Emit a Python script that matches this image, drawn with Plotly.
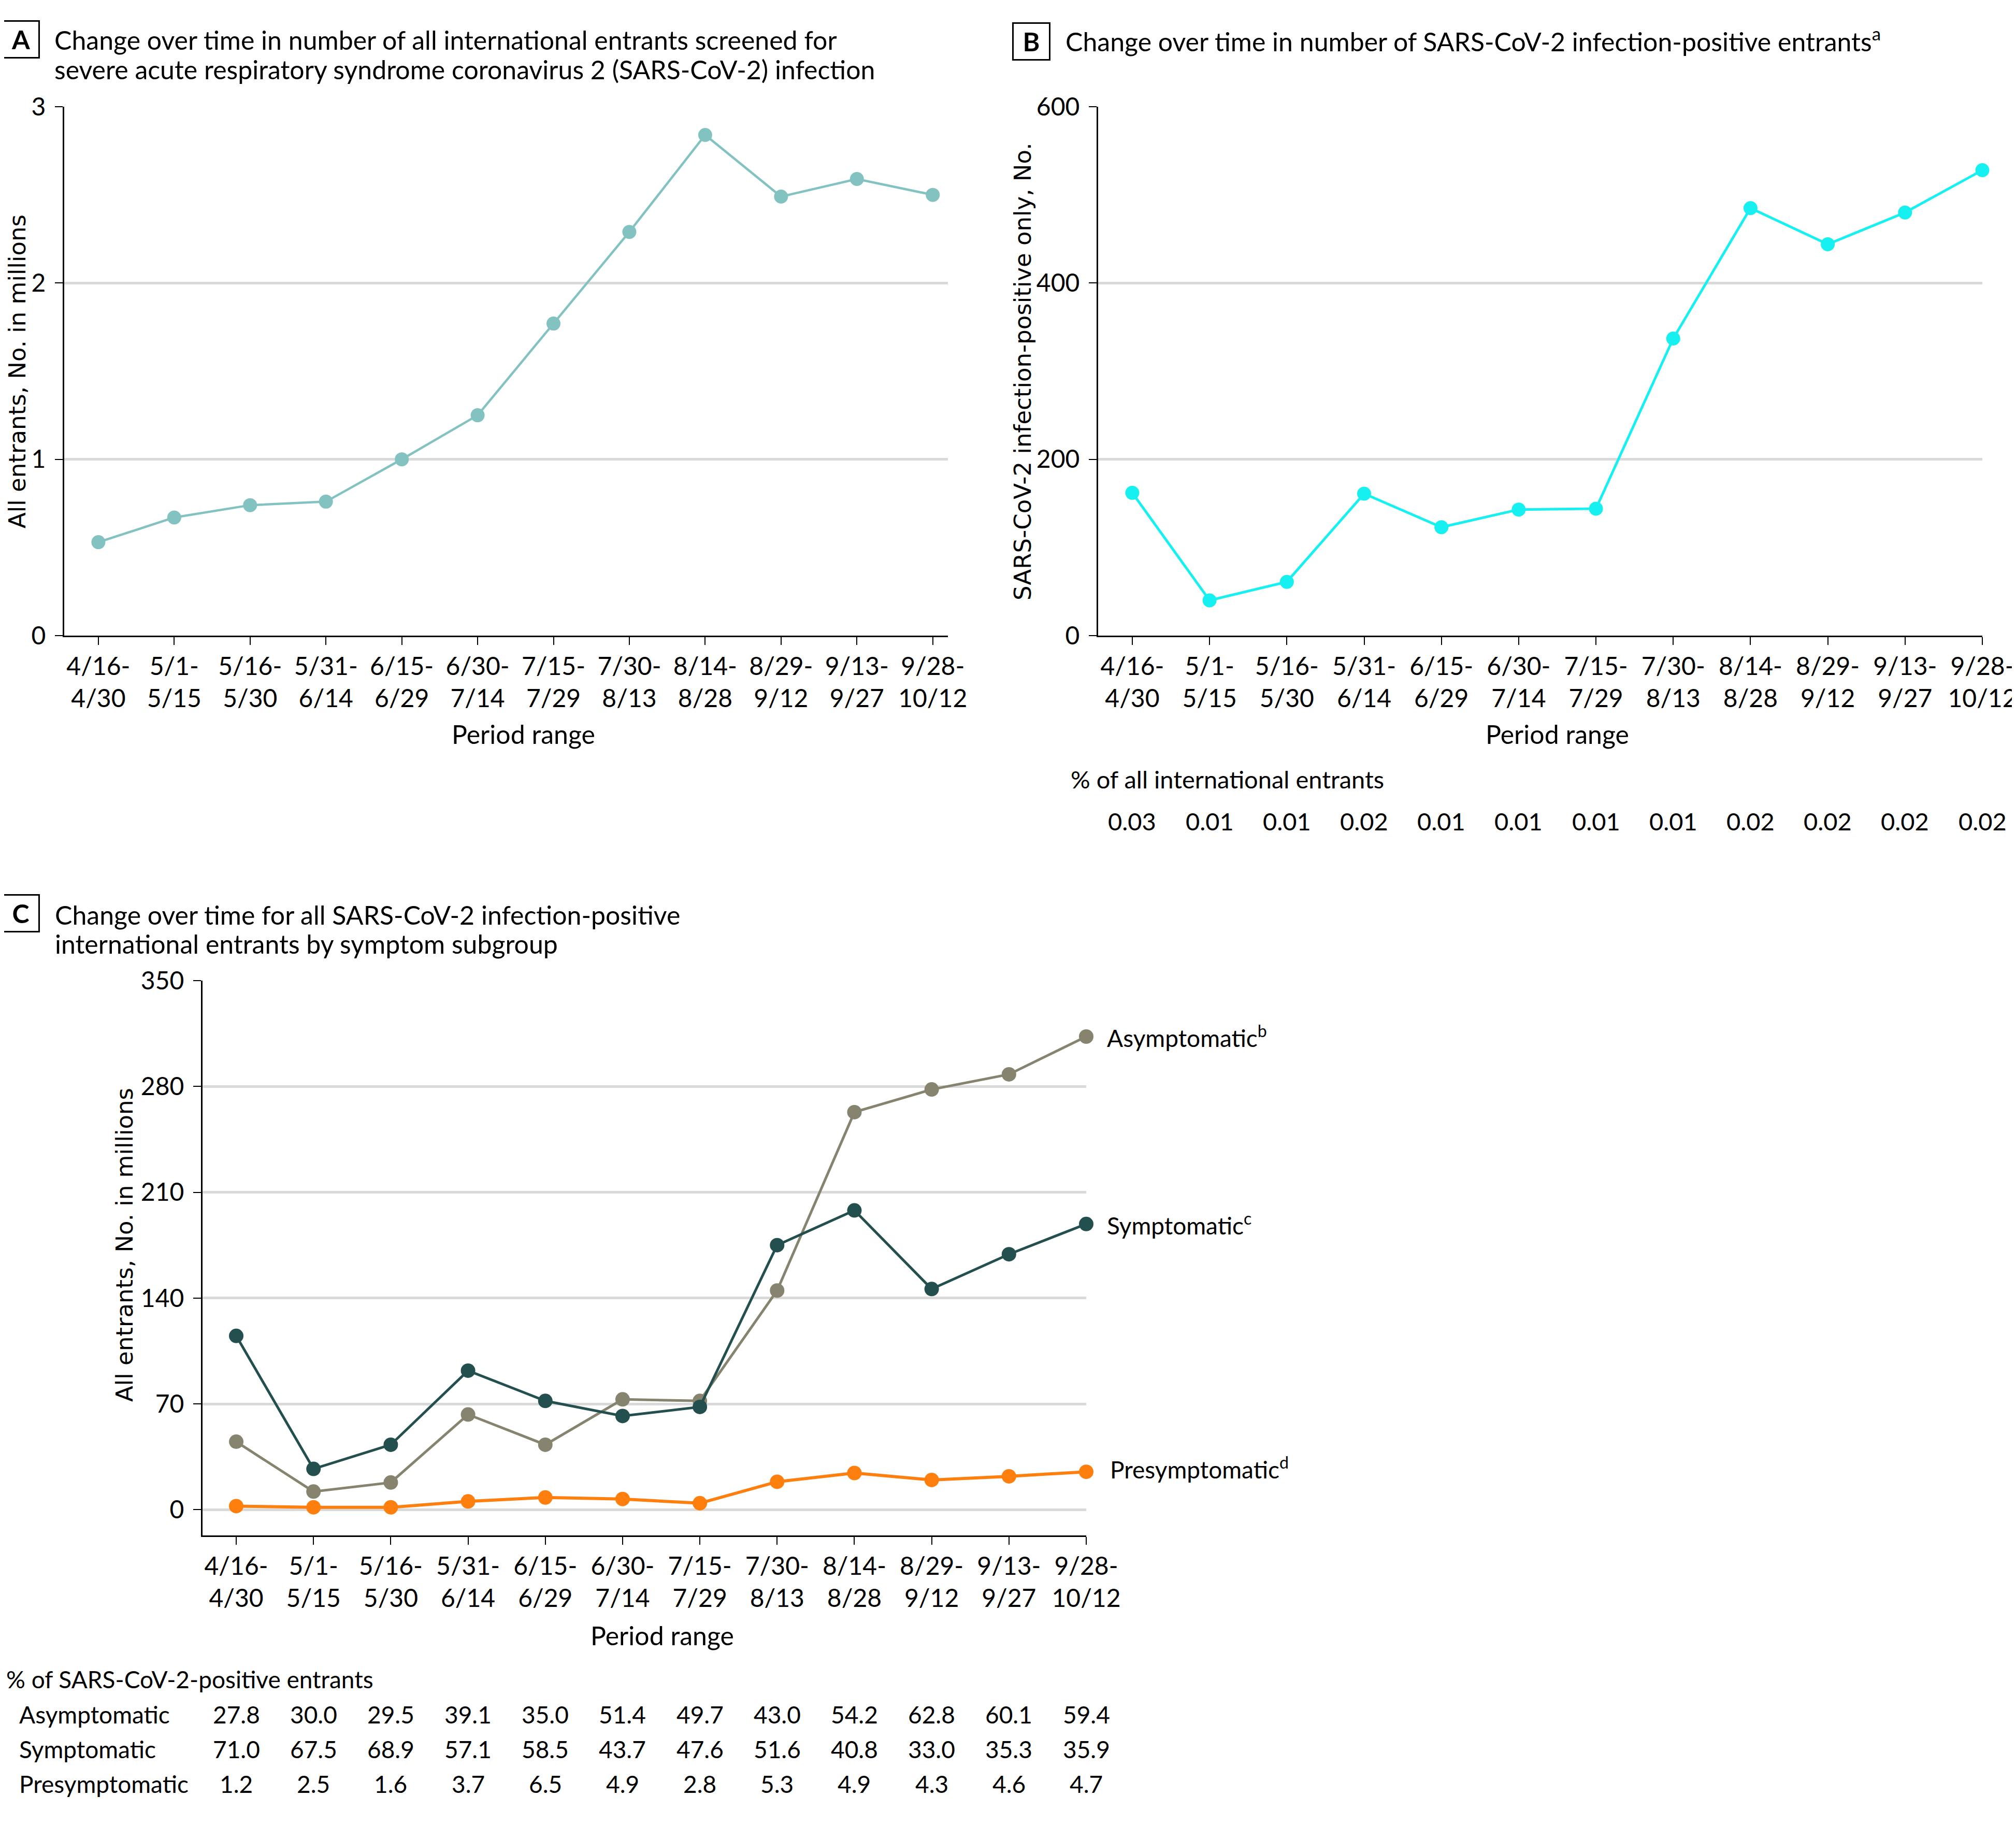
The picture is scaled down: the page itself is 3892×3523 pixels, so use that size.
import plotly.graph_objects as go

# ---------------- data ----------------
periods = ["4/16-<br>4/30", "5/1-<br>5/15", "5/16-<br>5/30", "5/31-<br>6/14", "6/15-<br>6/29",
           "6/30-<br>7/14", "7/15-<br>7/29", "7/30-<br>8/13", "8/14-<br>8/28", "8/29-<br>9/12",
           "9/13-<br>9/27", "9/28-<br>10/12"]
all_entrants_m = [0.53, 0.67, 0.74, 0.76, 1.00, 1.25, 1.77, 2.29, 2.84, 2.49, 2.59, 2.50]
positive_total = [162, 40, 61, 161, 123, 143, 144, 337, 485, 444, 480, 528]
pct_all_entrants = ["0.03", "0.01", "0.01", "0.02", "0.01", "0.01", "0.01", "0.01", "0.02", "0.02", "0.02", "0.02"]
asymptomatic = [45, 12, 18, 63, 43, 73, 72, 145, 263, 278, 288, 313]
symptomatic = [115, 27, 43, 92, 72, 62, 68, 175, 198, 146, 169, 189]
presymptomatic = [2.4, 1.6, 1.6, 5.5, 8.1, 7.1, 4.3, 18.5, 24.3, 19.7, 22.1, 25.1]
pct_asym = ["27.8", "30.0", "29.5", "39.1", "35.0", "51.4", "49.7", "43.0", "54.2", "62.8", "60.1", "59.4"]
pct_sym = ["71.0", "67.5", "68.9", "57.1", "58.5", "43.7", "47.6", "51.6", "40.8", "33.0", "35.3", "35.9"]
pct_pre = ["1.2", "2.5", "1.6", "3.7", "6.5", "4.9", "2.8", "5.3", "4.9", "4.3", "4.6", "4.7"]

xs = list(range(len(periods)))

# ---------------- style ----------------
PAGE_W, PAGE_H = 3892, 3523
BODY = 8                      # default page body margin
W, H = PAGE_W - 2 * BODY, PAGE_H - 2 * BODY
FONT = "Lato"
YFONT = "DejaVu Sans"
FS_TITLE = 50
FS_TICK = 48
FS_TEXT = 46
GRID = "#D9D9D9"
C_A = "#82C2C1"
C_B = "#17F0F0"
C_ASYM = "#86836F"
C_SYM = "#244F4F"
C_PRE = "#FF7F0E"


def px(x):
    return (x - BODY) / W


def py(y):
    return 1 - (y - BODY) / H


fig = go.Figure()

fig.add_trace(go.Scatter(x=xs, y=all_entrants_m, mode="lines+markers", xaxis="x", yaxis="y",
                         line=dict(color=C_A, width=4.5), marker=dict(color=C_A, size=27),
                         cliponaxis=False))
fig.add_trace(go.Scatter(x=xs, y=positive_total, mode="lines+markers", xaxis="x2", yaxis="y2",
                         line=dict(color=C_B, width=5), marker=dict(color=C_B, size=27),
                         cliponaxis=False))
fig.add_trace(go.Scatter(x=xs, y=presymptomatic, mode="lines+markers", xaxis="x3", yaxis="y3",
                         line=dict(color=C_PRE, width=6), marker=dict(color=C_PRE, size=28),
                         cliponaxis=False))
fig.add_trace(go.Scatter(x=xs, y=asymptomatic, mode="lines+markers", xaxis="x3", yaxis="y3",
                         line=dict(color=C_ASYM, width=5), marker=dict(color=C_ASYM, size=28),
                         cliponaxis=False))
fig.add_trace(go.Scatter(x=xs, y=symptomatic, mode="lines+markers", xaxis="x3", yaxis="y3",
                         line=dict(color=C_SYM, width=5), marker=dict(color=C_SYM, size=28),
                         cliponaxis=False))

xcommon = dict(tickvals=xs, ticktext=periods, ticks="outside", ticklen=15, tickwidth=2,
               tickcolor="black", showline=True, linecolor="black", linewidth=3,
               showgrid=False, zeroline=False, automargin=False, ticklabeloverflow="allow",
               tickfont=dict(family=FONT, size=FS_TICK, color="black"), fixedrange=True)
ycommon = dict(ticks="outside", ticklen=15, tickwidth=2, tickcolor="black", showline=True,
               linecolor="black", linewidth=3, showgrid=True, gridcolor=GRID, gridwidth=5,
               zeroline=False, automargin=False,
               tickfont=dict(family=FONT, size=FS_TICK, color="black"),
               ticklabelstandoff=8, fixedrange=True)

fig.update_layout(
    width=W, height=H,
    margin=dict(l=0, r=0, t=0, b=0, autoexpand=False),
    paper_bgcolor="white", plot_bgcolor="white",
    showlegend=False,
    font=dict(family=FONT, size=FS_TEXT, color="black"),
    xaxis=dict(domain=[px(124), px(1830)], range=[-0.45, 11.2], anchor="y", **xcommon),
    yaxis=dict(domain=[py(1227), py(206)], range=[0, 3], tickvals=[0, 1, 2, 3], anchor="x", **ycommon),
    xaxis2=dict(domain=[px(2120), px(3827)], range=[-0.442, 11.0], anchor="y2", **xcommon),
    yaxis2=dict(domain=[py(1227), py(206)], range=[0, 600], tickvals=[0, 200, 400, 600], anchor="x2", **ycommon),
    xaxis3=dict(domain=[px(391), px(2097)], range=[-0.436, 11.0], anchor="y3", **xcommon),
    yaxis3=dict(domain=[py(2964), py(1893)], range=[-17, 350], tickvals=[0, 70, 140, 210, 280, 350], anchor="x3", **ycommon),
)

ann = []


def text(x, y, s, xanchor="left", yanchor="middle", size=FS_TEXT, xref="paper", yref="paper",
         angle=0, family=FONT, **kw):
    ann.append(dict(x=x, y=y, xref=xref, yref=yref, text=s, showarrow=False, xanchor=xanchor,
                    yanchor=yanchor, textangle=angle, font=dict(family=family, size=size, color="black"), **kw))


def box(cx, cy, letter):
    ann.append(dict(x=px(cx), y=py(cy), xref="paper", yref="paper", text="<b>%s</b>" % letter,
                    showarrow=False, xanchor="center", yanchor="middle", width=64, height=64,
                    bordercolor="black", borderwidth=3, borderpad=2,
                    font=dict(family=FONT, size=FS_TITLE, color="black")))


# Panel A
box(40, 76, "A")
text(px(103), py(77), "Change over time in number of all international entrants screened for", size=FS_TITLE)
text(px(103), py(134), "severe acute respiratory syndrome coronavirus 2 (SARS-CoV-2) infection", size=FS_TITLE)
text(px(34), py(717), "All entrants, No. in millions", xanchor="center", angle=-90, size=45, family=YFONT)
text(px(1010), py(1417), "Period range", xanchor="center", size=50)

# Panel B
box(1991, 80, "B")
text(px(2055), py(77), "Change over time in number of SARS-CoV-2 infection-positive entrants<sup>a</sup>", size=FS_TITLE)
text(px(1975), py(717), "SARS-CoV-2 infection-positive only, No.", xanchor="center", angle=-90, size=45, family=YFONT)
text(px(3006), py(1417), "Period range", xanchor="center", size=50)
text(px(2065), py(1504), "% of all international entrants", size=47)
for i, v in enumerate(pct_all_entrants):
    text(i, py(1585), v, xanchor="center", xref="x2", size=47)

# Panel C
box(40, 1763, "C")
text(px(104), py(1766), "Change over time for all SARS-CoV-2 infection-positive", size=FS_TITLE)
text(px(104), py(1822), "international entrants by symptom subgroup", size=FS_TITLE)
text(px(240), py(2403), "All entrants, No. in millions", xanchor="center", angle=-90, size=45, family=YFONT)
text(px(1278), py(3157), "Period range", xanchor="center", size=50)

last = xs[-1]
text(last, asymptomatic[-1], "Asymptomatic<sup>b</sup>", xref="x3", yref="y3", xshift=38)
text(last, symptomatic[-1], "Symptomatic<sup>c</sup>", xref="x3", yref="y3", xshift=38)
text(last, presymptomatic[-1], "Presymptomatic<sup>d</sup>", xref="x3", yref="y3", xshift=44, yshift=8)

text(px(10), py(3241), "% of SARS-CoV-2-positive entrants")
rows = [("Asymptomatic", pct_asym, 3309), ("Symptomatic", pct_sym, 3376), ("Presymptomatic", pct_pre, 3443)]
for label, vals, yy in rows:
    text(px(35), py(yy), label)
    for i, v in enumerate(vals):
        text(i, py(yy), v, xanchor="center", xref="x3")

fig.update_layout(annotations=ann)
fig.write_html("out.html")
